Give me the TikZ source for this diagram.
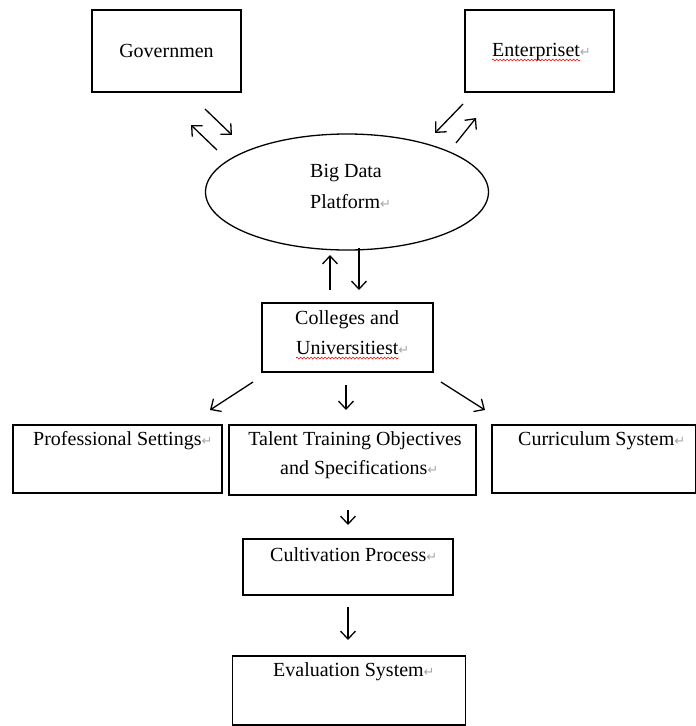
\documentclass[tikz,border=0pt]{standalone}
\usepackage{fontspec}
\setmainfont{Liberation Serif}
\newfontfamily\markfont{DejaVu Sans}
\usepackage{tikz}
\usetikzlibrary{shapes.geometric, arrows.meta, positioning, decorations.pathmorphing}
\newcommand{\pmark}{\rlap{\markfont\fontsize{13}{13}\selectfont\textcolor{gray!70}{↵}}}

\begin{document}
\begin{tikzpicture}[
    x=1pt, y=-1pt,
    >={Straight Barb[length=8pt,width=15pt]},
    every node/.style={font=\fontsize{20}{28}\selectfont},
    box/.style={draw, line width=1.5pt, inner sep=0pt},
    word/.style={inner sep=0pt, anchor=west},
    arr/.style={->, line width=1.3pt},
    spell/.style={red, line width=0.6pt, decorate, decoration={snake, amplitude=0.9pt, segment length=3.5pt}}
]
\useasboundingbox (0,0) rectangle (696,726);

% Top partners
\node[box, minimum width=149pt, minimum height=82pt] (gov) at (166.5,51) {Governmen};
\node[box, minimum width=149pt, minimum height=82pt] (ent) at (539.5,51) {};
\node[word] (ent-txt) at (492,52) {Enterpriset\pmark};
\draw[spell] ([yshift=-3.5pt]ent-txt.base west) -- ([yshift=-3.5pt]ent-txt.base east);

% Big data platform
\node[draw, ellipse, line width=1.3pt, minimum width=283pt, minimum height=116pt] (bdp) at (347,192) {};
\node[word] (bdp-l1) at (310,173) {Big Data};
\node[word] (bdp-l2) at (310,202) {Platform\pmark};

% Colleges
\node[box, minimum width=171pt, minimum height=69pt] (col) at (347.5,337.5) {};
\node[word] (col-l1) at (295,320) {Colleges and};
\node[word] (col-l2) at (296,348) {Universitiest\pmark};
\draw[spell] ([yshift=-3.5pt]col-l2.base west) -- ([yshift=-3.5pt]col-l2.base east);

% Second row
\node[box, minimum width=209pt, minimum height=68pt] (prof) at (117.5,459) {};
\node[word] (prof-txt) at (33,441) {Professional Settings\pmark};
\node[box, minimum width=247pt, minimum height=70pt] (tal) at (352.5,460) {};
\node[word, anchor=center] (tal-l1) at (355,441) {Talent Training Objectives};
\node[word] (tal-l2) at (280,470) {and Specifications\pmark};
\node[box, minimum width=203.5pt, minimum height=68pt] (cur) at (593.75,459) {};
\node[word] (cur-txt) at (518,441) {Curriculum System\pmark};

% Process and evaluation
\node[box, minimum width=210pt, minimum height=56pt] (cult) at (348,567) {};
\node[word] (cult-txt) at (270,555) {Cultivation Process\pmark};
\node[box, minimum width=233pt, minimum height=69pt] (eval) at (349,690.5) {};
\node[word] (eval-txt) at (273,672) {Evaluation System\pmark};

% Arrow ends
\coordinate (gov-a) at (205,109);  \coordinate (bdp-a) at (232,135);
\coordinate (bdp-b) at (217,150);  \coordinate (gov-b) at (191,125);
\coordinate (ent-a) at (463,104);  \coordinate (bdp-c) at (435,133);
\coordinate (bdp-d) at (456,143);  \coordinate (ent-b) at (476,118);
\coordinate (col-a) at (330,290);  \coordinate (bdp-e) at (330,255);
\coordinate (bdp-f) at (359,248);  \coordinate (col-b) at (359,290);
\coordinate (col-c) at (253,382);  \coordinate (prof-a) at (210,410);
\coordinate (col-d) at (346,385);  \coordinate (tal-a) at (346,410);
\coordinate (col-e) at (441,382);  \coordinate (cur-a) at (485,410);
\coordinate (tal-b) at (348,510);  \coordinate (cult-a) at (348,525);
\coordinate (cult-b) at (348,607);  \coordinate (eval-a) at (348,640);

% Arrows
\draw[arr] (gov-a) -- (bdp-a);
\draw[arr] (bdp-b) -- (gov-b);
\draw[arr] (ent-a) -- (bdp-c);
\draw[arr] (bdp-d) -- (ent-b);
\draw[arr] (col-a) -- (bdp-e);
\draw[arr] (bdp-f) -- (col-b);
\draw[arr] (col-c) -- (prof-a);
\draw[arr] (col-d) -- (tal-a);
\draw[arr] (col-e) -- (cur-a);
\draw[arr] (tal-b) -- (cult-a);
\draw[arr] (cult-b) -- (eval-a);

\end{tikzpicture}
\end{document}
